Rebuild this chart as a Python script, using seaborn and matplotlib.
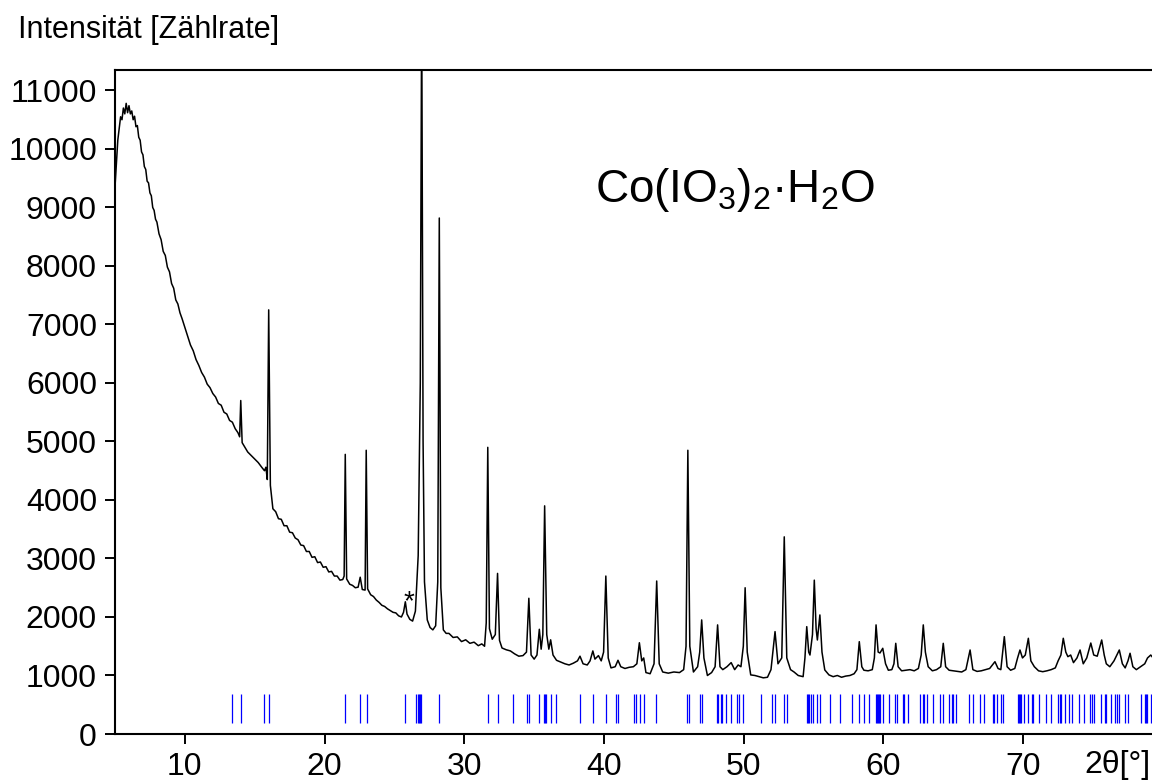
"""
XRD pattern of Co(IO3)2*H2O with reference reflection positions
"""

import seaborn as sns
import matplotlib.pyplot as plt

# measured pattern (2theta in degrees, counts)
two_theta = [
    5.00, 5.10, 5.20, 5.30, 5.40, 5.50, 5.60, 5.70, 5.80, 5.90, 6.00, 6.10,
    6.20, 6.30, 6.40, 6.50, 6.60, 6.70, 6.80, 6.90, 7.00, 7.10, 7.20, 7.30,
    7.40, 7.50, 7.60, 7.70, 7.80, 7.90, 8.00, 8.15, 8.30, 8.45, 8.60, 8.75,
    8.90, 9.05, 9.20, 9.35, 9.50, 9.65, 9.80, 10.00, 10.20, 10.40, 10.60,
    10.80, 11.00, 11.20, 11.40, 11.60, 11.80, 12.00, 12.20, 12.40, 12.60,
    12.80, 13.00, 13.20, 13.40, 13.60, 13.80, 13.92, 14.00, 14.10, 14.30,
    14.50, 14.75, 15.00, 15.25, 15.50, 15.70, 15.80, 15.90, 16.00, 16.12,
    16.30, 16.50, 16.70, 16.90, 17.10, 17.30, 17.50, 17.70, 17.90, 18.10,
    18.30, 18.50, 18.70, 18.90, 19.10, 19.30, 19.50, 19.70, 19.90, 20.10,
    20.30, 20.50, 20.70, 20.90, 21.10, 21.30, 21.40, 21.48, 21.58, 21.80,
    22.00, 22.20, 22.40, 22.55, 22.70, 22.90, 22.98, 23.08, 23.30, 23.50,
    23.70, 23.90, 24.10, 24.30, 24.50, 24.70, 24.90, 25.10, 25.30, 25.50,
    25.65, 25.78, 25.90, 26.10, 26.30, 26.50, 26.70, 26.85, 26.95, 27.05,
    27.15, 27.35, 27.55, 27.75, 27.95, 28.10, 28.21, 28.32, 28.50, 28.70,
    28.90, 29.20, 29.50, 29.80, 30.10, 30.40, 30.70, 31.00, 31.25, 31.45,
    31.57, 31.68, 31.80, 32.00, 32.22, 32.38, 32.52, 32.70, 33.00, 33.30,
    33.60, 33.90, 34.20, 34.45, 34.62, 34.78, 35.00, 35.20, 35.37, 35.50,
    35.62, 35.75, 35.90, 36.05, 36.18, 36.35, 36.60, 36.90, 37.20, 37.50,
    37.80, 38.10, 38.28, 38.50, 38.80, 39.00, 39.20, 39.35, 39.60, 39.80,
    39.97, 40.13, 40.30, 40.50, 40.80, 41.00, 41.20, 41.50, 41.80, 42.10,
    42.35, 42.53, 42.70, 42.84, 43.00, 43.30, 43.58, 43.77, 43.95, 44.20,
    44.60, 45.00, 45.40, 45.70, 45.87, 46.00, 46.14, 46.40, 46.70, 46.85,
    46.99, 47.15, 47.40, 47.70, 47.95, 48.13, 48.30, 48.50, 48.80, 49.10,
    49.35, 49.60, 49.80, 49.97, 50.10, 50.25, 50.50, 50.80, 51.10, 51.40,
    51.70, 51.95, 52.24, 52.45, 52.72, 52.90, 53.08, 53.35, 53.60, 53.90,
    54.25, 54.38, 54.51, 54.65, 54.74, 54.92, 55.05, 55.18, 55.27, 55.45,
    55.60, 55.80, 56.10, 56.40, 56.70, 57.00, 57.30, 57.60, 57.90, 58.10,
    58.27, 58.45, 58.60, 58.90, 59.20, 59.35, 59.47, 59.62, 59.75, 59.95,
    60.15, 60.35, 60.60, 60.75, 60.88, 61.05, 61.30, 61.60, 61.90, 62.20,
    62.50, 62.70, 62.85, 63.00, 63.20, 63.50, 63.80, 64.10, 64.28, 64.45,
    64.70, 65.00, 65.30, 65.60, 65.90, 66.20, 66.40, 66.70, 67.00, 67.30,
    67.60, 67.98, 68.20, 68.40, 68.65, 68.85, 69.10, 69.40, 69.60, 69.77,
    69.95, 70.15, 70.37, 70.55, 70.80, 71.10, 71.40, 71.70, 72.00, 72.30,
    72.50, 72.70, 72.87, 73.05, 73.20, 73.40, 73.60, 73.85, 74.07, 74.30,
    74.55, 74.84, 75.05, 75.30, 75.62, 75.80, 75.95, 76.20, 76.50, 76.88,
    77.10, 77.30, 77.50, 77.65, 77.85, 78.10, 78.40, 78.70, 78.90, 79.13,
    79.30,
]
counts = [
    9350, 9750, 10150, 10350, 10550, 10500, 10700, 10600, 10780, 10620, 10740, 10600,
    10650, 10500, 10560, 10380, 10400, 10200, 10150, 9950, 9900, 9700, 9650, 9450,
    9420, 9250, 9200, 9000, 8950, 8800, 8750, 8550, 8450, 8250, 8180, 7980,
    7900, 7700, 7620, 7420, 7350, 7200, 7100, 6950, 6800, 6650, 6550,
    6400, 6300, 6180, 6100, 5980, 5920, 5820, 5760, 5650, 5620, 5500,
    5470, 5360, 5330, 5220, 5150, 5080, 5700, 4980, 4900,
    4820, 4760, 4700, 4640, 4560, 4500, 4560, 4350, 7250, 4250,
    3850, 3800, 3680, 3670, 3560, 3560, 3450, 3440, 3350, 3320,
    3230, 3220, 3120, 3120, 3020, 3030, 2930, 2940, 2850, 2860,
    2770, 2780, 2700, 2700, 2630, 2640, 2700, 4780, 2650, 2560,
    2540, 2500, 2510, 2680, 2470, 2460, 4850, 2480, 2380, 2350,
    2290, 2250, 2200, 2180, 2140, 2110, 2080, 2070, 2020, 2000,
    2080, 2260, 2050, 1960, 1930, 2100, 3050, 6000, 12500, 5000,
    2600, 1950, 1820, 1780, 1850, 2600, 8820, 2500, 1780, 1720,
    1720, 1650, 1660, 1580, 1610, 1550, 1570, 1510, 1540, 1500,
    1900, 4900, 1800, 1620, 1700, 2745, 1600, 1470, 1440, 1420,
    1370, 1330, 1340, 1400, 2320, 1350, 1280, 1350, 1790, 1450,
    1700, 3900, 1700, 1450, 1610, 1350, 1260, 1230, 1200, 1180,
    1210, 1250, 1330, 1200, 1180, 1250, 1420, 1280, 1340, 1250,
    1400, 2700, 1300, 1130, 1150, 1260, 1150, 1120, 1140, 1150,
    1200, 1560, 1250, 1300, 1050, 1030, 1200, 2615, 1200, 1060,
    1040, 1060, 1050, 1100, 1500, 4850, 1500, 1060, 1150, 1400,
    1950, 1300, 1000, 1050, 1150, 1865, 1150, 1100, 1150, 1220,
    1100, 1180, 1150, 1500, 2500, 1400, 1010, 1000, 980, 960,
    970, 1100, 1750, 1200, 1300, 3370, 1300, 1100, 1060, 1000,
    980, 1300, 1835, 1400, 1350, 1700, 2630, 1800, 1607, 2035,
    1400, 1095, 1010, 980, 1000, 970, 990, 1000, 1030, 1100,
    1578, 1150, 1090, 1080, 1100, 1300, 1865, 1400, 1385, 1465,
    1200, 1090, 1100, 1200, 1550, 1150, 1080, 1090, 1100, 1080,
    1120, 1350, 1865, 1400, 1150, 1080, 1100, 1150, 1550, 1150,
    1090, 1080, 1070, 1060, 1100, 1436, 1100, 1070, 1080, 1100,
    1120, 1236, 1120, 1100, 1664, 1150, 1090, 1120, 1300, 1436,
    1300, 1350, 1636, 1250, 1150, 1080, 1065, 1080, 1100, 1130,
    1250, 1350, 1636, 1400, 1322, 1350, 1220, 1300, 1436, 1200,
    1300, 1555, 1350, 1330, 1607, 1350, 1200, 1150, 1250, 1436,
    1200, 1130, 1250, 1380, 1150, 1100, 1150, 1200, 1300, 1350,
    1300,
]

# reference reflection positions (2theta)
ref_peaks = [
    13.35, 13.99, 15.68, 15.99, 21.46, 22.53, 23.03, 25.75,
    26.52, 26.70, 26.78, 26.85, 26.92, 28.21, 31.67, 32.43, 33.46, 34.51,
    34.61, 35.37, 35.68, 35.77, 35.84, 36.18, 36.54, 38.28, 39.19,
    40.12, 40.83, 41.02, 42.14, 42.31, 42.55, 42.84, 43.74, 45.94, 46.10,
    46.87, 46.99, 48.06, 48.18, 48.35, 48.42, 48.75, 49.11, 49.50, 49.64,
    49.97, 51.26, 52.04, 52.24, 52.88,
    53.07, 54.51, 54.60, 54.70, 54.79, 54.98, 55.22, 55.48, 56.18, 56.89,
    57.77, 58.27, 58.61, 58.97, 59.45, 59.52, 59.59, 59.66, 59.76, 59.95,
    60.40, 60.83, 60.95, 61.38, 61.49, 61.76, 62.64, 62.81, 62.90, 63.10,
    63.53, 64.03, 64.26, 64.72, 64.89, 65.00, 65.17, 66.15,
    66.43, 66.93, 67.20, 67.84, 67.94, 68.11, 68.44, 68.58, 69.61, 69.73,
    69.80, 69.87, 70.07, 70.33, 70.66, 70.73, 71.14, 71.64, 72.02, 72.52,
    72.64, 72.71, 72.98, 73.26, 73.52, 73.98, 74.38, 74.79, 74.91, 75.05,
    75.57, 75.84, 75.93, 76.27, 76.60, 76.74, 76.84, 77.27, 77.53, 78.41,
    78.70, 78.80, 78.89, 79.13,
]

x_ticks = [10, 20, 30, 40, 50, 60, 70]
y_ticks = [0, 1000, 2000, 3000, 4000, 5000, 6000, 7000, 8000, 9000, 10000, 11000]

sns.set_theme(style="ticks")
plt.rcParams["font.family"] = ["Liberation Sans", "DejaVu Sans"]
plt.rcParams["text.color"] = "black"
plt.rcParams["mathtext.fontset"] = "custom"
plt.rcParams["mathtext.rm"] = "Liberation Sans"

fig = plt.figure(figsize=(11.52, 7.83), dpi=100)
ax = fig.add_axes([115 / 1152, 1 - 734 / 783, 1 - 115 / 1152, 664 / 783])

sns.lineplot(x=two_theta, y=counts, ax=ax, color="black", linewidth=1.1,
             estimator=None, sort=False)
ax.vlines(ref_peaks, 190, 690, color="#0000ff", linewidth=0.9)

ax.set_xlim(5, 79.22)
ax.set_ylim(0, 11350)
ax.set_xticks(x_ticks)
ax.set_yticks(y_ticks)
ax.tick_params(direction="out", length=7, width=1.4, labelsize=23, pad=6,
               colors="black")
for side in ["left", "top", "bottom"]:
    ax.spines[side].set_linewidth(1.5)
    ax.spines[side].set_color("black")
ax.spines["right"].set_visible(False)
ax.set_xlabel("")
ax.set_ylabel("")

ax.text(26.05, 2250, "*", fontsize=20, ha="center", va="center",
        color="black")
ax.text(49.4, 9300, r"Co(IO$_\mathrm{3}$)$_\mathrm{2}$·H$_\mathrm{2}$O",
        fontsize=33, ha="center", va="center", color="black")

fig.text(18 / 1152, 1 - 30 / 783, "Intensität [Zählrate]", fontsize=22,
         ha="left", va="center", color="black")
fig.text(1150 / 1152, 1 - 765 / 783, "2θ[°]", fontsize=23,
         ha="right", va="center", color="black")

plt.savefig("out.png", dpi=100)
